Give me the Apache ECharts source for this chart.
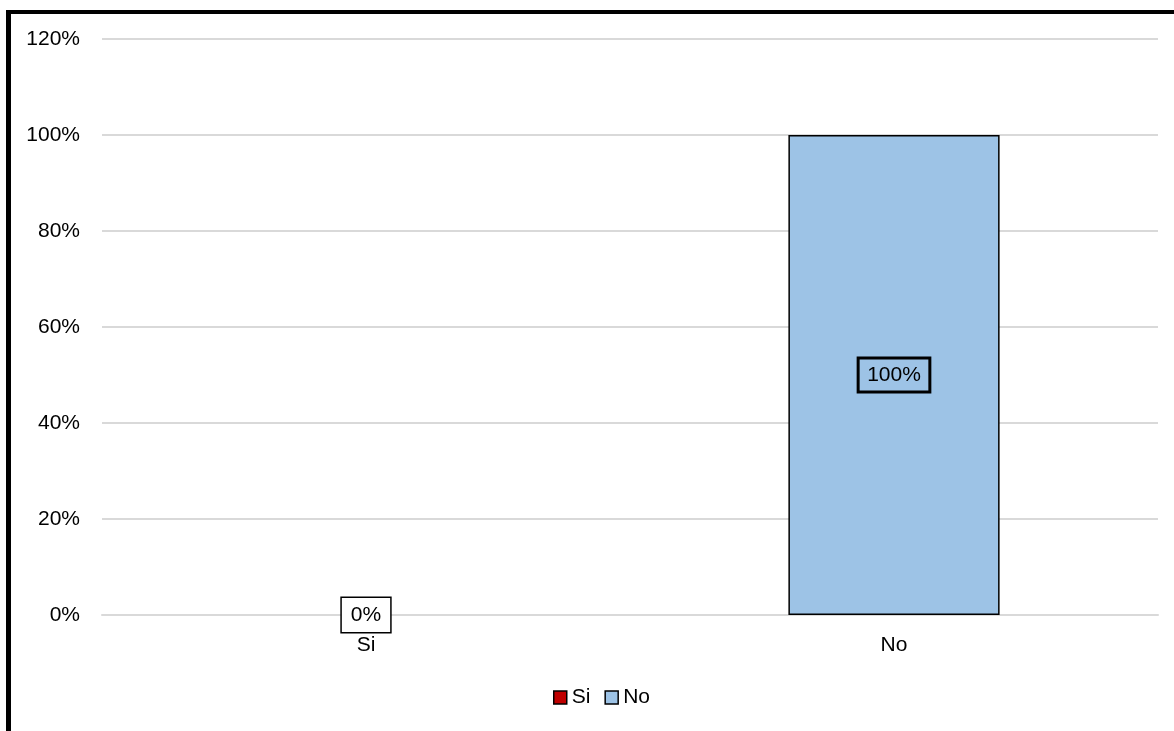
<!DOCTYPE html>
<html>
<head>
<meta charset="utf-8">
<script src="https://cdn.jsdelivr.net/npm/echarts@6/dist/echarts.min.js"></script>
<style>
  html, body { margin: 0; padding: 0; background: #fff; overflow: hidden; }
  #frame { position: absolute; left: 6px; top: 10px; width: 1300px; height: 900px;
           border-left: 5px solid #000; border-top: 4px solid #000; box-sizing: border-box; }
  #chart { position: absolute; left: 0; top: 0; width: 1174px; height: 731px; }
</style>
</head>
<body>
<div id="frame"></div>
<div id="chart"></div>
<script>
const categories = ['Si', 'No'];
const seriesNames = ['Si', 'No'];
const siValues = [0, null];
const noValues = [null, 1];
const yTicks = [0, 0.2, 0.4, 0.6, 0.8, 1.0, 1.2];

const FONT = '"Liberation Sans", Arial, sans-serif';
function makeLabel(bg) {
  return {
    show: true,
    position: 'inside',
    formatter: p => Math.round(p.value * 100) + '%',
    color: '#000',
    fontFamily: FONT,
    fontSize: 21,
    borderColor: '#000',
    borderWidth: 1.5,
    padding: [7, 9, 6, 9],
    backgroundColor: bg
  };
}

const chart = echarts.init(document.getElementById('chart'), null, { renderer: 'canvas' });
chart.setOption({
  backgroundColor: 'transparent',
  animation: false,
  grid: { left: 102, right: 16, top: 39, bottom: 116, containLabel: false },
  legend: {
    data: seriesNames,
    bottom: 18,
    left: 548,
    itemWidth: 13,
    itemHeight: 13,
    itemGap: 14,
    icon: 'rect',
    itemStyle: { borderColor: '#000', borderWidth: 1.5 },
    textStyle: { fontFamily: FONT, fontSize: 21, color: '#000' }
  },
  xAxis: {
    type: 'category',
    data: categories,
    axisLine: { show: true, lineStyle: { color: '#d9d9d9', width: 2 } },
    axisTick: { show: false },
    axisLabel: { fontFamily: FONT, fontSize: 21, color: '#000', margin: 20 }
  },
  yAxis: {
    type: 'value',
    min: yTicks[0],
    max: yTicks[yTicks.length - 1],
    interval: 0.2,
    axisLine: { show: false },
    axisTick: { show: false },
    splitLine: { lineStyle: { color: '#d9d9d9', width: 2 } },
    axisLabel: {
      fontFamily: FONT, fontSize: 21, color: '#000', margin: 22,
      formatter: v => Math.round(v * 100) + '%'
    }
  },
  series: [
    {
      name: seriesNames[0],
      type: 'bar',
      stack: 'total',
      barWidth: '40%',
      data: siValues,
      itemStyle: { color: '#C00000', borderColor: '#000', borderWidth: 0 },
      label: makeLabel('#fff')
    },
    {
      name: seriesNames[1],
      type: 'bar',
      stack: 'total',
      barWidth: '40%',
      data: noValues,
      itemStyle: { color: '#9DC3E6', borderColor: '#000', borderWidth: 1.5 },
      label: makeLabel('transparent')
    }
  ]
});
</script>
</body>
</html>
